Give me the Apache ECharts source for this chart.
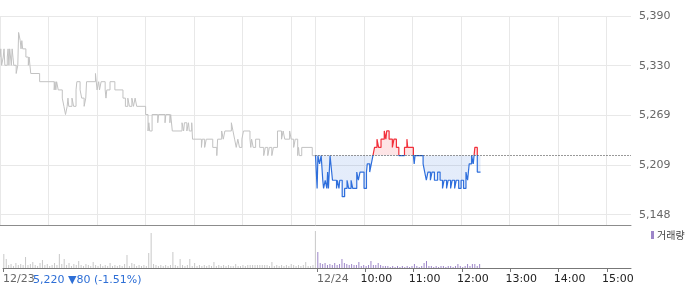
<!DOCTYPE html>
<html><head><meta charset="utf-8">
<script src="https://cdn.jsdelivr.net/npm/echarts@6/dist/echarts.min.js"></script>
<style>html,body{margin:0;padding:0;background:#fff}#c{width:700px;height:289px}</style>
</head><body><div id="c"></div>
<script>
// minutes after 09:00, price (change points)
const prevTicks = [[0,5340],[1,5350],[2,5330],[4,5340],[5,5350],[6,5330],[9,5340],[10,5350],[11,5330],[12,5350],[14,5330],[15,5350],[16,5340],[17,5330],[20,5320],[22,5330],[23,5370],[25,5360],[26,5350],[27,5360],[28,5350],[32,5340],[35,5330],[36,5340],[37,5330],[38,5320],[49,5310],[67,5300],[68,5310],[69,5300],[70,5310],[72,5300],[77,5290],[79,5280],[81,5270],[83,5280],[84,5290],[85,5280],[89,5290],[91,5280],[94,5300],[95,5310],[99,5300],[101,5290],[104,5280],[106,5290],[107,5310],[118,5320],[120,5300],[122,5310],[123,5300],[125,5310],[130,5300],[131,5290],[132,5300],[136,5310],[142,5300],[152,5290],[155,5280],[158,5290],[160,5280],[163,5290],[165,5280],[167,5290],[169,5280],[180,5270],[183,5250],[184,5260],[185,5250],[188,5270],[195,5260],[196,5270],[204,5260],[205,5270],[210,5260],[211,5270],[213,5250],[225,5260],[227,5250],[228,5260],[231,5250],[233,5260],[234,5250],[237,5260],[238,5240],[249,5230],[250,5240],[253,5230],[255,5240],[263,5230],[268,5220],[269,5240],[274,5250],[276,5240],[278,5250],[286,5260],[288,5250],[290,5240],[292,5230],[294,5240],[296,5230],[299,5240],[301,5250],[309,5240],[310,5230],[311,5240],[313,5230],[316,5240],[321,5230],[326,5220],[328,5230],[331,5220],[333,5230],[336,5220],[338,5230],[343,5250],[348,5240],[350,5250],[352,5240],[358,5250],[360,5240],[363,5230],[365,5240],[368,5220],[369,5230],[370,5220],[373,5230],[386,5220],[390,5220]];
const todayTicks = [[0,5220],[2,5180],[3,5220],[5,5210],[7,5220],[9,5190],[10,5180],[12,5190],[14,5180],[15,5200],[16,5180],[18,5220],[20,5200],[21,5190],[26,5180],[27,5190],[29,5180],[30,5190],[33,5170],[36,5180],[39,5190],[41,5180],[44,5190],[46,5180],[51,5200],[53,5190],[55,5200],[60,5180],[63,5200],[64,5210],[67,5200],[69,5210],[71,5220],[73,5230],[76,5240],[78,5230],[81,5240],[85,5250],[87,5240],[88,5250],[91,5240],[95,5230],[97,5240],[100,5230],[103,5220],[110,5230],[113,5240],[114,5230],[121,5220],[122,5210],[123,5220],[133,5210],[135,5200],[137,5190],[139,5200],[142,5190],[144,5200],[147,5190],[151,5200],[154,5190],[157,5180],[159,5190],[162,5180],[164,5190],[167,5180],[169,5190],[172,5180],[174,5190],[177,5180],[180,5190],[183,5180],[186,5200],[188,5190],[190,5210],[193,5220],[195,5210],[197,5230],[200,5200],[204,5200]];
// volume per 3-minute bin (relative units)
const prevVolume = [14,9,3,4,2,5,3,4,3,11,3,4,6,3,2,5,8,3,4,2,3,5,3,14,4,9,3,5,2,4,3,7,3,2,4,3,2,6,3,2,4,2,3,2,5,2,3,2,3,2,4,13,2,5,4,2,3,2,3,2,15,35,4,3,2,3,2,3,2,3,16,3,2,9,3,2,3,9,2,5,2,3,2,3,2,3,2,6,2,3,2,3,2,3,2,2,4,2,2,3,2,3,3,3,3,3,3,3,3,3,2,6,2,3,2,3,2,3,2,4,3,2,3,2,3,6,2,2,3,37];
const todayVolume = [16,5,4,5,3,4,3,5,3,4,9,5,4,3,4,3,3,6,2,3,2,3,7,3,3,5,3,2,2,2,1,2,1,2,1,2,1,2,1,2,4,2,1,2,5,7,2,2,1,2,1,2,2,1,2,2,1,2,4,2,1,2,4,2,4,4,2,4];
const priceTicks = [5148, 5208.5, 5269, 5329.5, 5390];
const basePrice = 5220;
const dayLabels = ['12/23', '12/24'];
const timeLabels = ['10:00', '11:00', '12:00', '13:00', '14:00', '15:00'];
const infoText = '5,220 ▼80 (-1.51%)';
const volumeName = '거래량';

const DAY = 390;
const hourMins = [60, 120, 180, 240, 300, 360];
const gridMinutes = [0].concat(hourMins, [DAY], hourMins.map(m => DAY + m));
const tickMinutes = [0, DAY].concat(hourMins.map(m => DAY + m));
const LABEL_SHIFT = 6;
const hourLabelValues = hourMins.map(m => DAY + m - LABEL_SHIFT);

const todayLine = todayTicks.map(([m, p]) => [DAY + m, p]);
const prevVolData = prevVolume.map((v, i) => [i * 3 + 1, v]);
const todayVolData = todayVolume.map((v, i) => [DAY + i * 3 + 1, v]);

const BLUE = '#2f6fdc', RED = '#f2303b';
const FONT = 'DejaVu Sans';
const chart = echarts.init(document.getElementById('c'));
chart.setOption({
  animation: false,
  grid: [
    {left: 0, width: 631, top: 16, height: 209},
    {left: 0, width: 631, top: 225, height: 43}
  ],
  legend: {
    data: [volumeName], left: 651, top: 230, icon: 'rect', itemWidth: 3, itemHeight: 8,
    padding: 0, itemGap: 0,
    textStyle: {fontSize: 10, color: '#444', fontFamily: 'Noto Sans CJK KR', padding: [0, 0, 0, -2]}
  },
  xAxis: [
    {gridIndex: 0, type: 'value', min: 0, max: 780,
     axisLine: {show: true, lineStyle: {color: '#8c8c8c'}},
     axisTick: {show: false, customValues: gridMinutes},
     axisLabel: {show: false},
     splitLine: {show: true, lineStyle: {color: '#e8e8e8'}}},
    {gridIndex: 1, type: 'value', min: 0, max: 780,
     axisLine: {show: true, lineStyle: {color: '#777'}},
     axisTick: {show: true, length: 4, lineStyle: {color: '#777'}, customValues: tickMinutes},
     axisLabel: {customValues: [0, DAY], align: 'left', margin: 6,
       formatter: v => v === 0 ? dayLabels[0] : dayLabels[1],
       color: '#666', fontSize: 11, fontFamily: FONT},
     splitLine: {show: false}},
    {gridIndex: 1, type: 'value', min: 0, max: 780, position: 'bottom',
     axisLine: {show: false}, axisTick: {show: false}, splitLine: {show: false},
     axisLabel: {customValues: hourLabelValues, align: 'left', margin: 6,
       formatter: v => timeLabels[Math.round((v + LABEL_SHIFT - DAY) / 60) - 1],
       color: '#222', fontSize: 11, fontFamily: FONT}}
  ],
  yAxis: [
    {gridIndex: 0, type: 'value', position: 'right', min: 5135.5, max: 5390,
     axisLine: {show: false},
     axisTick: {show: false, customValues: priceTicks},
     axisLabel: {customValues: priceTicks, margin: 8, color: '#666', fontSize: 11, fontFamily: FONT,
       formatter: v => Math.round(v).toLocaleString('en-US')},
     splitLine: {show: true, lineStyle: {color: '#e8e8e8'}}},
    {gridIndex: 1, type: 'value', min: 0, max: 43, show: false}
  ],
  visualMap: {
    type: 'piecewise', show: false, seriesIndex: 1, dimension: 1,
    pieces: [
      {lt: 5000, color: BLUE},
      {gte: 5000, lte: basePrice + 1, color: BLUE},
      {gt: basePrice + 1, lte: 5500, color: RED},
      {gt: 5500, color: RED}
    ]
  },
  graphic: [
    {type: 'text', left: 33, top: 275, style: {text: infoText, fill: '#2e6fd6', font: '11px "DejaVu Sans"'}}
  ],
  series: [
    {type: 'line', name: 'prev', xAxisIndex: 0, yAxisIndex: 0, data: prevTicks, step: 'end',
     showSymbol: false, lineStyle: {color: '#c2c2c2', width: 1}, itemStyle: {color: '#c2c2c2'}, z: 3},
    {type: 'line', name: 'today', xAxisIndex: 0, yAxisIndex: 0, data: todayLine, step: 'end',
     showSymbol: false, lineStyle: {width: 1.2}, areaStyle: {origin: basePrice, opacity: 0.13}, z: 3,
     markLine: {silent: true, symbol: 'none', label: {show: false},
       lineStyle: {color: '#333', type: [1, 2], width: 1},
       data: [[{coord: [DAY, basePrice]}, {coord: [780, basePrice]}]]}},
    {type: 'bar', name: 'prevVol', xAxisIndex: 1, yAxisIndex: 1, data: prevVolData, barWidth: 1, barGap: '-100%',
     itemStyle: {color: '#c8c8c8'}},
    {type: 'bar', name: volumeName, xAxisIndex: 1, yAxisIndex: 1, data: todayVolData, barWidth: 1, barGap: '-100%',
     itemStyle: {color: '#9d86c9'}}
  ]
});
</script></body></html>
